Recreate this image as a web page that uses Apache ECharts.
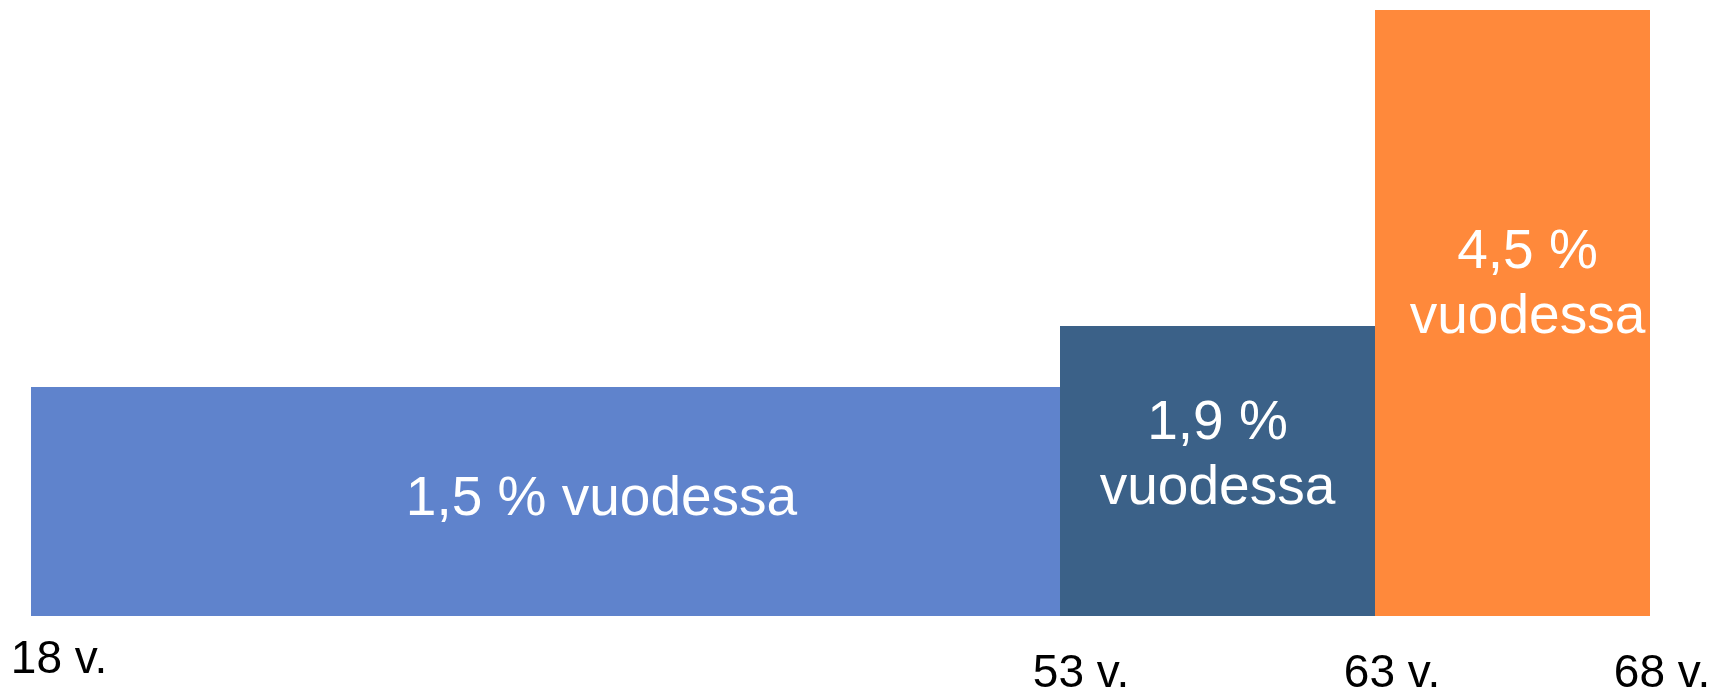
<!DOCTYPE html>
<html>
<head>
<meta charset="utf-8">
<script src="https://cdn.jsdelivr.net/npm/echarts@6/dist/echarts.min.js"></script>
<style>
html,body{margin:0;padding:0;background:#fff;}
#chart{width:1716px;height:691px;}
</style>
</head>
<body>
<div id="chart"></div>
<script>
// ---- data ----
const ageBounds = [18, 53, 63, 68];          // segment boundaries (age, years)
const ageLabels = ['18 v.', '53 v.', '63 v.', '68 v.'];
const rates = [1.5, 1.9, 4.5];               // accrual rate, % per year
const rateTexts = ['1,5 % vuodessa', '1,9 %\nvuodessa', '4,5 %\nvuodessa'];
const yMax = 3.97;

// ---- styling / layout ----
const colors = ['#5f83cc', '#3b6188', '#ff893b'];
const gridLayout = [
  {left: 31, width: 1029},
  {left: 1060, width: 315},
  {left: 1375, width: 275}
];
const labelOffsets = [[56, -2], [0, -15], [15, -28]];
const axisLabelMargins = [21, 35, 35];
const FONT = '"Liberation Sans", Arial, sans-serif';

const chart = echarts.init(document.getElementById('chart'));

const grids = [], xAxes = [], yAxes = [], series = [];
rates.forEach((r, i) => {
  const start = ageBounds[i], end = ageBounds[i + 1];
  grids.push({
    left: gridLayout[i].left, width: gridLayout[i].width, top: 10, bottom: 75,
    containLabel: false, outerBoundsMode: 'none'
  });
  const isLast = i === rates.length - 1;
  xAxes.push({
    type: 'value', gridIndex: i, min: start, max: end, interval: end - start,
    axisLine: {show: false}, axisTick: {show: false}, splitLine: {show: false},
    axisLabel: {
      show: true,
      showMinLabel: true,
      showMaxLabel: isLast,
      margin: axisLabelMargins[i],
      color: '#000',
      fontFamily: FONT,
      fontSize: 46,
      formatter: v => {
        const k = ageBounds.indexOf(v);
        if (k < 0) return '';
        if (!isLast && v === end) return '';
        if (k === 0) return '{first|' + ageLabels[k] + '}';
        if (k === ageBounds.length - 1) return '{last|' + ageLabels[k] + '}';
        if (isLast) return '{mid3|' + ageLabels[k] + '}';
        return '{mid|' + ageLabels[k] + '}';
      },
      rich: {
        first: {fontSize: 46, fontFamily: FONT, color: '#000', padding: [0, 0, 0, 56]},
        mid: {fontSize: 46, fontFamily: FONT, color: '#000', padding: [0, 0, 0, 42]},
        mid3: {fontSize: 46, fontFamily: FONT, color: '#000', padding: [0, 0, 0, 34]},
        last: {fontSize: 46, fontFamily: FONT, color: '#000', padding: [0, 0, 0, 24]}
      }
    }
  });
  yAxes.push({type: 'value', gridIndex: i, min: 0, max: yMax, show: false});
  series.push({
    type: 'custom',
    xAxisIndex: i, yAxisIndex: i,
    data: [[start, end, r]],
    renderItem: (params, api) => {
      const p0 = api.coord([api.value(0), 0]);
      const p1 = api.coord([api.value(1), api.value(2)]);
      const cs = params.coordSys;
      const shape = echarts.graphic.clipRectByRect(
        {x: p0[0], y: p1[1], width: p1[0] - p0[0], height: p0[1] - p1[1]},
        {x: cs.x, y: cs.y, width: cs.width, height: cs.height}
      );
      return {
        type: 'rect',
        shape: shape,
        style: {fill: colors[i]},
        textContent: {
          style: {
            text: rateTexts[i], fill: '#fff', fontFamily: FONT, fontSize: 55,
            lineHeight: 65, align: 'center', verticalAlign: 'middle'
          }
        },
        textConfig: {position: 'inside', offset: labelOffsets[i]}
      };
    }
  });
});

chart.setOption({
  animation: false,
  grid: grids,
  xAxis: xAxes,
  yAxis: yAxes,
  series: series
});
</script>
</body>
</html>
